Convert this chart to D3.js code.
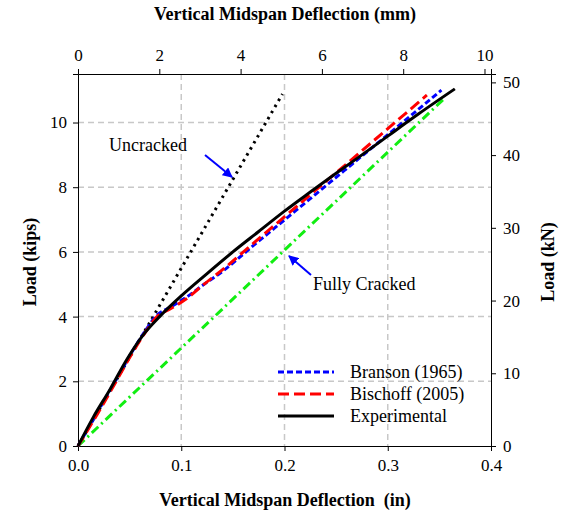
<!DOCTYPE html>
<html lang="en">
<head>
<meta charset="UTF-8" />
<title>Load vs Deflection</title>
<script src="https://d3js.org/d3.v7.min.js"></script>
<style>
  body { margin: 0; background: #fff; }
  svg text { font-family: "Liberation Serif", "Times New Roman", serif; fill: #000; }
  .axis path, .axis line { stroke: #000; stroke-width: 1; }
</style>
</head>
<body>
<svg id="chart" width="564" height="519"></svg>
<script>
// deflection (in) vs load (kips)
const branson = [[0,0],[0.018,1],[0.036,2],[0.054,3],[0.066,3.6],[0.075,4.0],[0.09,4.3],[0.105,4.6],[0.12,4.95],[0.14,5.4],[0.17,6.2],[0.2,6.99],[0.23,7.78],[0.26,8.57],[0.29,9.36],[0.32,10.15],[0.352,11.0]];
const bischoff = [[0,0],[0.019,1],[0.037,2],[0.055,3],[0.067,3.6],[0.075,3.95],[0.09,4.25],[0.105,4.55],[0.12,4.95],[0.14,5.45],[0.167,6.19],[0.199,7.06],[0.231,7.93],[0.263,8.8],[0.296,9.7],[0.338,10.85]];
const experimental = [[0,0],[0.015,0.9],[0.031,1.75],[0.047,2.66],[0.063,3.43],[0.079,4.0],[0.1,4.64],[0.125,5.33],[0.15,6.0],[0.175,6.63],[0.2,7.26],[0.225,7.85],[0.25,8.43],[0.275,9.0],[0.3,9.58],[0.33,10.27],[0.365,11.04]];
const uncracked = [[0,0],[0.198,10.88]];
const fullyCracked = [[0,0],[0.356,10.78]];

const xTicksIn = [0, 0.1, 0.2, 0.3, 0.4];
const xTicksMm = [0, 2, 4, 6, 8, 10];
const yTicksKips = [0, 2, 4, 6, 8, 10];
const yTicksKn = [0, 10, 20, 30, 40, 50];

const serif = '"Liberation Serif", "Times New Roman", serif';

const margin = { top: 74, right: 73, bottom: 73, left: 78 },
      width = 564 - margin.left - margin.right,
      height = 519 - margin.top - margin.bottom;

const svg = d3.select("#chart");
const g = svg.append("g").attr("transform", `translate(${margin.left},${margin.top})`);

const x = d3.scaleLinear().domain([0, 0.4]).range([0, width]);
const xMm = d3.scaleLinear().domain([0, 0.4 * 25.4]).range([0, width]);
const y = d3.scaleLinear().domain([0, 11.5]).range([height, 0]);
const yKn = d3.scaleLinear().domain([0, 11.5 * 4.448]).range([height, 0]);

// grid
g.append("g").selectAll("line")
  .data(xTicksIn.slice(1, -1))
  .join("line")
  .attr("x1", d => x(d)).attr("x2", d => x(d))
  .attr("y1", 0).attr("y2", height)
  .attr("stroke", "#c8c8c8").attr("stroke-width", 1.5).attr("stroke-dasharray", "6,4");
g.append("g").selectAll("line")
  .data(yTicksKips.slice(1))
  .join("line")
  .attr("y1", d => y(d)).attr("y2", d => y(d))
  .attr("x1", 0).attr("x2", width)
  .attr("stroke", "#c8c8c8").attr("stroke-width", 1.5).attr("stroke-dasharray", "6,4");

// axes
const axes = [
  g.append("g").attr("transform", `translate(0,${height})`)
    .call(d3.axisBottom(x).tickValues(xTicksIn).tickFormat(d3.format(".1f")).tickSizeOuter(0).tickSize(5).tickPadding(8)),
  g.append("g")
    .call(d3.axisTop(xMm).tickValues(xTicksMm).tickFormat(d3.format("d")).tickSizeOuter(0).tickSize(5).tickPadding(8)),
  g.append("g")
    .call(d3.axisLeft(y).tickValues(yTicksKips).tickFormat(d3.format("d")).tickSizeOuter(0).tickSize(5).tickPadding(6)),
  g.append("g").attr("transform", `translate(${width},0)`)
    .call(d3.axisRight(yKn).tickValues(yTicksKn).tickFormat(d3.format("d")).tickSizeOuter(0).tickSize(5).tickPadding(7))
];
axes.forEach(a => {
  a.attr("class", "axis").attr("font-family", serif).attr("font-size", 17);
  a.selectAll("text")
    .attr("font-family", serif)
    .style("font-family", serif)
    .style("font-size", "17px");
});

// series
const line = d3.line().x(d => x(d[0])).y(d => y(d[1])).curve(d3.curveMonotoneX);

g.append("path").datum(fullyCracked).attr("d", line)
  .attr("fill", "none").attr("stroke", "#11ee11").attr("stroke-width", 3)
  .attr("stroke-dasharray", "9,4,2,4");
g.append("path").datum(uncracked).attr("d", line)
  .attr("fill", "none").attr("stroke", "#000").attr("stroke-width", 3)
  .attr("stroke-dasharray", "2.5,4.5");
g.append("path").datum(branson).attr("d", line)
  .attr("fill", "none").attr("stroke", "#0000ff").attr("stroke-width", 3)
  .attr("stroke-dasharray", "6,3");
g.append("path").datum(bischoff).attr("d", line)
  .attr("fill", "none").attr("stroke", "#ff0000").attr("stroke-width", 3)
  .attr("stroke-dasharray", "11,5");
g.append("path").datum(experimental).attr("d", line)
  .attr("fill", "none").attr("stroke", "#000").attr("stroke-width", 3);

// annotations
svg.append("defs").append("marker")
  .attr("id", "arrow").attr("viewBox", "0 0 10 10")
  .attr("refX", 9).attr("refY", 5)
  .attr("markerWidth", 5).attr("markerHeight", 5)
  .attr("orient", "auto")
  .append("path").attr("d", "M0,0L10,5L0,10z").attr("fill", "#0000ff");

svg.append("line")
  .attr("x1", 205).attr("y1", 155).attr("x2", 232).attr("y2", 177)
  .attr("stroke", "#0000ff").attr("stroke-width", 2).attr("marker-end", "url(#arrow)");
svg.append("text").attr("x", 109).attr("y", 151)
  .style("font-size", "18px").text("Uncracked");

svg.append("line")
  .attr("x1", 311).attr("y1", 275).attr("x2", 289).attr("y2", 256)
  .attr("stroke", "#0000ff").attr("stroke-width", 2).attr("marker-end", "url(#arrow)");
svg.append("text").attr("x", 313).attr("y", 290)
  .style("font-size", "18px").text("Fully Cracked");

// legend
const legendItems = [
  { name: "Branson (1965)", color: "#0000ff", dash: "6,3" },
  { name: "Bischoff (2005)", color: "#ff0000", dash: "11,5" },
  { name: "Experimental", color: "#000", dash: null }
];
const legend = svg.append("g").attr("transform", "translate(278,372)");
legendItems.forEach((d, i) => {
  legend.append("line")
    .attr("x1", 0).attr("x2", 56).attr("y1", i * 22).attr("y2", i * 22)
    .attr("stroke", d.color).attr("stroke-width", 3)
    .attr("stroke-dasharray", d.dash);
  legend.append("text")
    .attr("x", 72).attr("y", i * 22 + 6)
    .style("font-size", "18px").text(d.name);
});

// axis titles
svg.append("text").attr("x", 285).attr("y", 20).attr("text-anchor", "middle")
  .style("font-size", "18px").attr("font-weight", "bold").text("Vertical Midspan Deflection (mm)");
svg.append("text").attr("x", 285).attr("y", 506).attr("text-anchor", "middle")
  .style("font-size", "18px").attr("font-weight", "bold").attr("xml:space", "preserve")
  .text("Vertical Midspan Deflection  (in)");
svg.append("text").attr("transform", "translate(36,262) rotate(-90)").attr("text-anchor", "middle")
  .style("font-size", "18px").attr("font-weight", "bold").text("Load (kips)");
svg.append("text").attr("transform", "translate(554,262) rotate(-90)").attr("text-anchor", "middle")
  .style("font-size", "18px").attr("font-weight", "bold").text("Load (kN)");
</script>
</body>
</html>
